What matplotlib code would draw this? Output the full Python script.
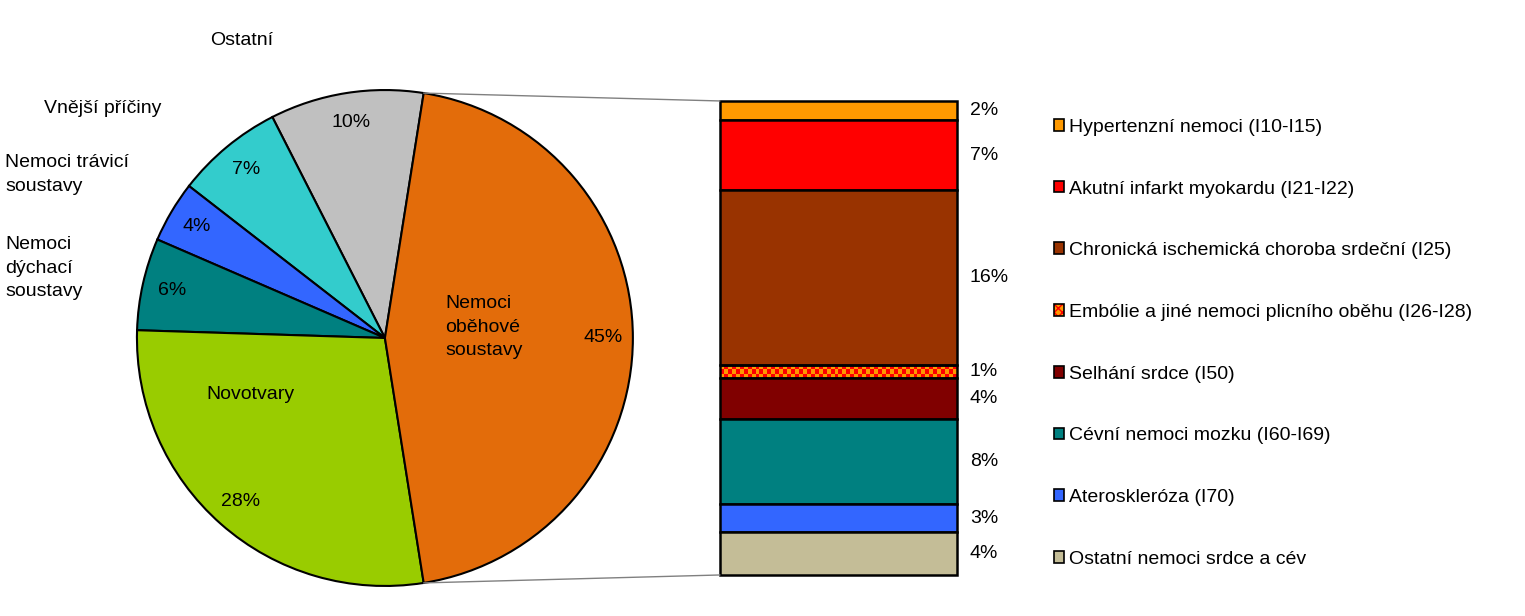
import matplotlib
matplotlib.use("Agg")
import matplotlib.pyplot as plt
import numpy as np
from matplotlib.patches import Patch, ConnectionPatch
from matplotlib.colors import ListedColormap

plt.rcParams['font.family'] = ['Liberation Sans', 'DejaVu Sans']
plt.rcParams['font.size'] = 14

# pie data (counterclockwise from the top edge of the orange slice)
pie_labels = ['Ostatní', 'Vnější příčiny', 'Nemoci trávicí\nsoustavy',
              'Nemoci\ndýchací\nsoustavy', 'Novotvary', 'Nemoci\noběhové\nsoustavy']
pie_values = [10, 7, 4, 6, 28, 45]
pie_colors = ['#C0C0C0', '#33CCCC', '#3366FF', '#008080', '#99CC00', '#E36C0A']

# breakdown of Nemoci oběhové soustavy (top to bottom)
bar_labels = ['Hypertenzní nemoci (I10-I15)',
              'Akutní infarkt myokardu (I21-I22)',
              'Chronická ischemická choroba srdeční (I25)',
              'Embólie a jiné nemoci plicního oběhu (I26-I28)',
              'Selhání srdce (I50)',
              'Cévní nemoci mozku (I60-I69)',
              'Ateroskleróza (I70)',
              'Ostatní nemoci srdce a cév']
bar_values = [1.8, 6.7, 16.6, 1.2, 3.9, 8.1, 2.6, 4.1]
bar_pct = ['2%', '7%', '16%', '1%', '4%', '8%', '3%', '4%']
bar_colors = ['#FF9900', '#FF0000', '#993300', '#FF9900',
              '#800000', '#008080', '#3366FF', '#C4BD97']
checker_colors = ['#FF9900', '#FF0000']

fig = plt.figure(figsize=(15.25, 6.16), dpi=100)

# ---- pie ----
ax_pie = fig.add_axes([0.0898, 0.0487, 0.3252, 0.8052])
wedges, texts, autotexts = ax_pie.pie(
    pie_values, colors=pie_colors, startangle=81, autopct='%.0f%%',
    pctdistance=0.88, wedgeprops=dict(edgecolor='black', linewidth=1.5),
    textprops=dict(fontsize=14))
ax_pie.set_xlim(-1, 1)
ax_pie.set_ylim(-1, 1)

label_pos = [(-0.577, 1.200, 'center'), (-1.137, 0.927, 'center'),
             (-1.532, 0.660, 'left'), (-1.532, 0.282, 'left'),
             (-0.544, -0.226, 'center'), (0.242, 0.044, 'left')]
for lab, (x, y, ha) in zip(pie_labels, label_pos):
    ax_pie.text(x, y, lab, ha=ha, va='center', fontsize=14, linespacing=1.5)

# ---- stacked bar ----
ax_bar = fig.add_axes([0.4721, 0.0666, 0.1554, 0.7695])
total = sum(bar_values)
bottoms = total - np.cumsum(bar_values)
bars = ax_bar.bar(0, bar_values, bottom=bottoms, width=1, color=bar_colors,
                  edgecolor='black', linewidth=1.8, clip_on=False, zorder=2)

# checkered fill for Embólie
emb = bars[3]
emb.set_facecolor('none')
checker = np.add.outer(np.arange(3), np.arange(60)) % 2
img = ax_bar.imshow(checker, cmap=ListedColormap(checker_colors), aspect='auto',
                    interpolation='nearest', zorder=1,
                    extent=(emb.get_x(), emb.get_x() + emb.get_width(),
                            emb.get_y(), emb.get_y() + emb.get_height()))
img.set_clip_path(emb)

ax_bar.set_xlim(-0.5, 0.5)
ax_bar.set_ylim(0, total)
ax_bar.axis('off')

for b, pct in zip(bars, bar_pct):
    ax_bar.text(0.555, b.get_y() + b.get_height() / 2, pct,
                ha='left', va='center', fontsize=14)

# connector lines
orange = wedges[-1]
for ang, yb in [(orange.theta2, total), (orange.theta1, 0)]:
    t = np.deg2rad(ang)
    con = ConnectionPatch(xyA=(np.cos(t), np.sin(t)), coordsA=ax_pie.transData,
                          xyB=(-0.5, yb), coordsB=ax_bar.transData,
                          color='#808080', linewidth=1)
    fig.add_artist(con)

# legend
handles = []
for i, c in enumerate(bar_colors):
    if i == 3:
        handles.append((Patch(facecolor=checker_colors[0], edgecolor=checker_colors[1],
                              hatch='xxxx', linewidth=0),
                        Patch(facecolor='none', edgecolor='black', linewidth=1.2)))
    else:
        handles.append(Patch(facecolor=c, edgecolor='black', linewidth=1.2))
fig.legend(handles, bar_labels, loc='upper left',
           bbox_to_anchor=(1046 / 1525, 1 - 111 / 616), frameon=False,
           handlelength=0.55, handleheight=0.55, handletextpad=0.25,
           labelspacing=2.30, fontsize=14, borderaxespad=0)

fig.savefig('out.png', dpi=100)
